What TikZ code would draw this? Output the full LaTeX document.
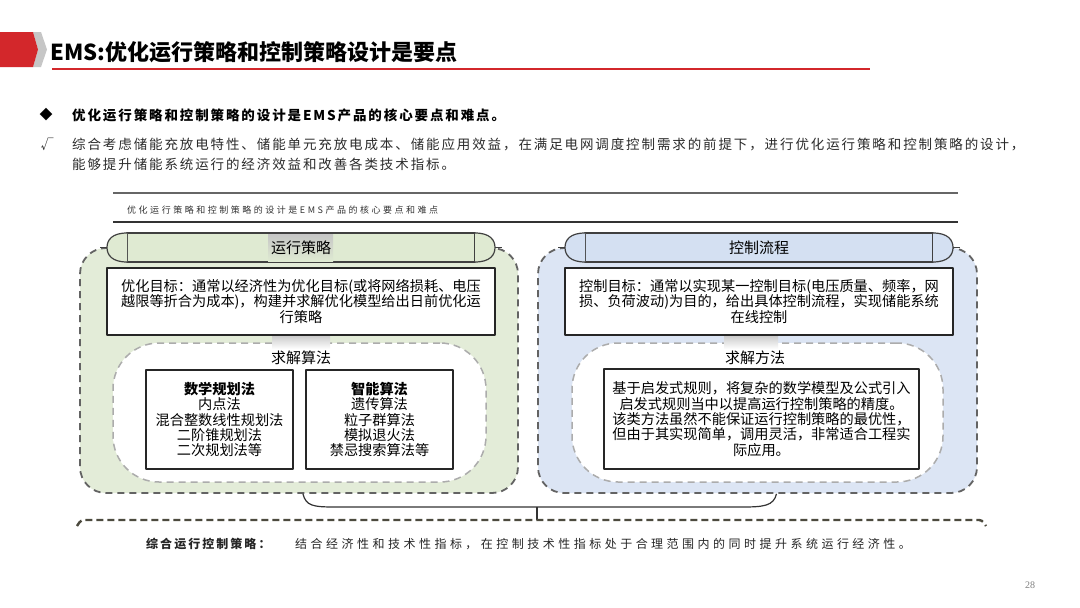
\documentclass[tikz,border=0pt]{standalone}
\usepackage{fontspec}
\setmainfont{Noto Sans CJK SC}
\newfontfamily\spacedfont[LetterSpace=14]{Noto Sans CJK SC}
\newfontfamily\captionfont[LetterSpace=28]{Noto Sans CJK SC}
\newfontfamily\notefont[LetterSpace=29]{Noto Sans CJK SC}
\newfontfamily\notefontb[LetterSpace=17]{Noto Sans CJK SC}
\newfontfamily\serifnum{Liberation Serif}
\usetikzlibrary{calc}
\definecolor{panelG}{HTML}{E3ECD8}
\definecolor{barG}{HTML}{DFEAD2}
\definecolor{panelB}{HTML}{DCE5F4}
\definecolor{barB}{HTML}{D4E0F2}
\definecolor{brandred}{HTML}{D3272B}
\definecolor{dashgray}{HTML}{636363}
\definecolor{footgray}{HTML}{4C4A3E}
\definecolor{bodygray}{HTML}{2B2B2B}
\begin{document}
\begin{tikzpicture}[x=1pt, y=-1pt, line join=round,
  panel/.style={draw=dashgray, dash pattern=on 7pt off 5pt, line width=1.8pt, rounded corners=26pt, inner sep=0pt},
  zone/.style={draw=gray!65, dash pattern=on 7pt off 5pt, line width=1.5pt, rounded corners=46pt, fill=white, inner sep=0pt},
  bar/.style={draw=black!75, line width=1.2pt},
  txtbox/.style={draw=black!85, line width=1.4pt, fill=white, align=center, inner sep=0pt, font=\fontsize{14.2}{15.3}\selectfont},
  barlabel/.style={font=\fontsize{15}{17}\selectfont},
  link/.style={draw=black!80, line width=1.2pt},
  footdash/.style={draw=footgray, dash pattern=on 7pt off 4pt, line width=2.4pt}]
\useasboundingbox (0,0) rectangle (1080,608);
\fill[white] (0,0) rectangle (1080,608);
\fill[gray!45] (33,32) -- (41,32) -- (47,49.5) -- (41,67) -- (33,67) -- (38,49.5) -- cycle;
\fill[brandred] (0,32) -- (33,32) -- (38,49.5) -- (33,67) -- (0,67) -- cycle;
\node (title) [anchor=west, inner sep=0pt, font=\fontsize{22}{25}\selectfont\bfseries] at (50,52) {EMS:优化运行策略和控制策略设计是要点};
\draw[brandred, line width=1.3pt] (52,69) -- (870,69);
\node (dia) [font=\fontsize{13}{15}\selectfont] at (46,115) {◆};
\node (pt1) [anchor=west, inner sep=0pt, font=\spacedfont\fontsize{13.5}{16}\selectfont\bfseries] at (72,115) {优化运行策略和控制策略的设计是EMS产品的核心要点和难点。};
\node (chk) [text=bodygray, font=\fontsize{13}{15}\selectfont] at (47,144) {√};
\node (pt2) [anchor=west, inner sep=0pt, text=bodygray, font=\spacedfont\fontsize{13.5}{16}\selectfont] at (72,144) {综合考虑储能充放电特性、储能单元充放电成本、储能应用效益，在满足电网调度控制需求的前提下，进行优化运行策略和控制策略的设计，};
\node (pt3) [anchor=west, inner sep=0pt, text=bodygray, font=\spacedfont\fontsize{13.5}{16}\selectfont] at (72,164) {能够提升储能系统运行的经济效益和改善各类技术指标。};
\draw[gray!80!black, line width=1.8pt] (113,193) -- (958,193);
\node (cap) [anchor=west, inner sep=0pt, text=black!80, font=\captionfont\fontsize{9}{11}\selectfont] at (127,210) {优化运行策略和控制策略的设计是EMS产品的核心要点和难点};
\draw[black!80, line width=1.1pt] (113,222) -- (958,222);
\node (panelL) [panel, fill=panelG, minimum width=438, minimum height=245] at (299,370.5) {};
\node (panelR) [panel, fill=panelB, minimum width=439, minimum height=245] at (757.5,370.5) {};
\draw[bar, fill=barG] (127,233) rectangle (475,262);
\draw[bar, fill=barG] (127,233) .. controls (112,233) and (107,240) .. (107,247.5) .. controls (107,255) and (112,262) .. (127,262);
\draw[bar, fill=barG] (475,233) .. controls (490,233) and (495,240) .. (495,247.5) .. controls (495,255) and (490,262) .. (475,262);
\draw[bar] (107,247.5) -- (100,247.5) (495,247.5) -- (502,247.5);
\shade[top color=gray!45, bottom color=barG] (268,234) rectangle (333,261);
\node (barL) [barlabel] at (301,248) {运行策略};
\draw[bar, fill=barB] (585,233) rectangle (933,262);
\draw[bar, fill=barB] (585,233) .. controls (570,233) and (565,240) .. (565,247.5) .. controls (565,255) and (570,262) .. (585,262);
\draw[bar, fill=barB] (933,233) .. controls (948,233) and (953,240) .. (953,247.5) .. controls (953,255) and (948,262) .. (933,262);
\draw[bar] (565,247.5) -- (558,247.5) (953,247.5) -- (960,247.5);
\node (barR) [barlabel] at (759,248) {控制流程};
\node (goalL) [txtbox, minimum width=388, minimum height=67] at (301,301.5) {优化目标：通常以经济性为优化目标(或将网络损耗、电压\\越限等折合为成本)，构建并求解优化模型给出日前优化运\\行策略};
\node (goalR) [txtbox, minimum width=388, minimum height=67] at (759,301.5) {控制目标：通常以实现某一控制目标(电压质量、频率，网\\损、负荷波动)为目的，给出具体控制流程，实现储能系统\\在线控制};
\node (zoneL) [zone, minimum width=373, minimum height=139] at (299.5,412.5) {};
\node (zoneR) [zone, minimum width=371, minimum height=139] at (757.5,412.5) {};
\shade[top color=gray!40, bottom color=white] (272,336) rectangle (330,349);
\shade[top color=gray!40, bottom color=white] (724,336) rectangle (778,349);
\node (solveL) [barlabel] at (301,358) {求解算法};
\node (solveR) [barlabel] at (755,358) {求解方法};
\node (mathbox) [txtbox, minimum width=147, minimum height=99] at (219.5,419.5) {\textbf{数学规划法}\\内点法\\混合整数线性规划法\\二阶锥规划法\\二次规划法等};
\node (smartbox) [txtbox, minimum width=147, minimum height=99] at (379.5,419.5) {\textbf{智能算法}\\遗传算法\\粒子群算法\\模拟退火法\\禁忌搜索算法等};
\node (rulebox) [txtbox, minimum width=315, minimum height=100] at (761.5,419) {基于启发式规则，将复杂的数学模型及公式引入\\启发式规则当中以提高运行控制策略的精度。\\该类方法虽然不能保证运行控制策略的最优性，\\但由于其实现简单，调用灵活，非常适合工程实\\际应用。};
\coordinate (joint) at (537,507);
\coordinate (footmid) at (537,520);
\draw[link] ($(panelL.south)+(4,0)$) .. controls +(3,12) and +(-22,0) .. (335,507) -- (joint) -- (742,507) .. controls +(22,0) and +(-3,12) .. ($(panelR.south)+(19,0)$);
\draw[link] (joint) -- (footmid);
\draw[footdash, rounded corners=3pt] (77,526) -- (81,520) -- (982,520) -- (986,526);
\node (noteK) [anchor=west, inner sep=0pt, text=black!85, font=\notefontb\fontsize{12}{14}\selectfont\bfseries] at (146,544) {综合运行控制策略：};
\node (noteT) [anchor=west, inner sep=0pt, text=black!85, font=\notefont\fontsize{12}{14}\selectfont] at (295,544) {结合经济性和技术性指标，在控制技术性指标处于合理范围内的同时提升系统运行经济性。};
\node (pageno) [text=gray, font=\serifnum\fontsize{10}{12}\selectfont] at (1030,585) {28};
\end{tikzpicture}
\end{document}
